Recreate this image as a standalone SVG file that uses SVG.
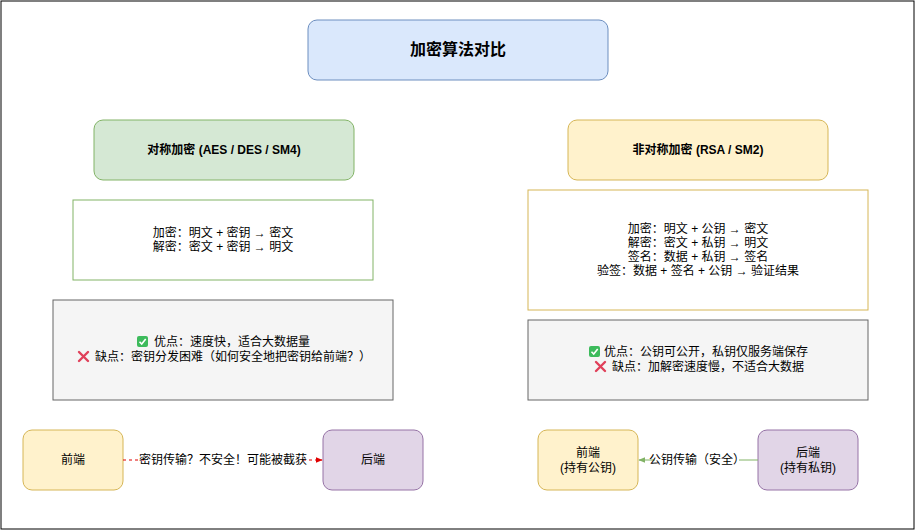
<svg xmlns="http://www.w3.org/2000/svg" width="916" height="531" viewBox="0 0 916 531">
<style>
text{font-family:"Liberation Sans","Noto Sans CJK SC",sans-serif;font-size:12px;fill:#000;text-anchor:middle}
.b{font-weight:bold}
.blue{fill:#dae8fc;stroke:#6c8ebf}
.green{fill:#d5e8d4;stroke:#82b366}
.yel{fill:#fff2cc;stroke:#d6b656}
.pur{fill:#e1d5e7;stroke:#9673a6}
.gray{fill:#f5f5f5;stroke:#666666}
</style>
<defs>
<marker id="ar" viewBox="0 0 10 10" refX="9" refY="5" markerWidth="7" markerHeight="7" orient="auto"><path d="M0,1 L10,5 L0,9 z" fill="#e00000"/></marker>
<marker id="ag" viewBox="0 0 10 10" refX="9" refY="5" markerWidth="7" markerHeight="7" orient="auto"><path d="M0,1 L10,5 L0,9 z" fill="#82b366"/></marker>
<g id="ok"><rect x="0" y="0" width="11" height="11" rx="2" fill="#3dbb5c"/><path d="M2.5,5.8 L4.7,8 L8.7,3" fill="none" stroke="#fff" stroke-width="1.6"/></g>
<g id="no"><path d="M1,1 L10,10 M10,1 L1,10" stroke="#e0405a" stroke-width="2.4" stroke-linecap="round"/></g>
</defs>
<rect x="1" y="1" width="913" height="528" fill="#fff" stroke="#000"/>
<g id="title"><rect class="blue" x="308" y="20" width="300" height="60" rx="9"/><text class="b" x="458" y="55" style="font-size:16px">加密算法对比</text></g>
<g id="symHead"><rect class="green" x="94" y="120" width="260" height="60" rx="9"/><text class="b" x="224" y="154">对称加密 (AES / DES / SM4)</text></g>
<g id="asymHead"><rect class="yel" x="568" y="120" width="260" height="60" rx="9"/><text class="b" x="698" y="154">非对称加密 (RSA / SM2)</text></g>
<g id="symFormula"><rect x="73" y="200" width="300" height="80" fill="#fff" stroke="#82b366"/><text x="223" y="237">加密：明文 + 密钥 → 密文</text><text x="223" y="251">解密：密文 + 密钥 → 明文</text></g>
<g id="asymFormula"><rect x="528" y="190" width="340" height="120" fill="#fff" stroke="#d6b656"/><text x="698" y="233">加密：明文 + 公钥 → 密文</text><text x="698" y="247">解密：密文 + 私钥 → 明文</text><text x="698" y="261">签名：数据 + 私钥 → 签名</text><text x="698" y="275">验签：数据 + 签名 + 公钥 → 验证结果</text></g>
<g id="symPros"><rect class="gray" x="53" y="300" width="340" height="100"/><use href="#ok" x="137" y="336"/><text x="232" y="346">优点：速度快，适合大数据量</text><use href="#no" x="78" y="351"/><text x="233" y="361">缺点：密钥分发困难（如何安全地把密钥给前端？）</text></g>
<g id="asymPros"><rect class="gray" x="528" y="320" width="340" height="80"/><use href="#ok" x="589" y="346"/><text x="706" y="356">优点：公钥可公开，私钥仅服务端保存</text><use href="#no" x="595" y="361"/><text x="708" y="371">缺点：加解密速度慢，不适合大数据</text></g>
<g id="symFront"><rect class="yel" x="23" y="430" width="100" height="60" rx="9"/><text x="73" y="464">前端</text></g>
<g id="symBack"><rect class="pur" x="323" y="430" width="100" height="60" rx="9"/><text x="373" y="464">后端</text></g>
<g id="asymFront"><rect class="yel" x="538" y="430" width="100" height="60" rx="9"/><text x="588" y="457">前端</text><text x="588" y="472">(持有公钥)</text></g>
<g id="asymBack"><rect class="pur" x="758" y="430" width="100" height="60" rx="9"/><text x="808" y="457">后端</text><text x="808" y="472">(持有私钥)</text></g>
<g id="connectors">
<path d="M123,460 H322" stroke="#e00000" stroke-dasharray="3,3" fill="none" marker-end="url(#ar)"/>
<rect x="145" y="452" width="156" height="16" fill="#fff"/><text x="223" y="464">密钥传输？不安全！可能被截获</text>
<path d="M758,460 H639" stroke="#82b366" fill="none" marker-end="url(#ag)"/>
<rect x="655" y="452" width="84" height="16" fill="#fff"/><text x="697" y="464">公钥传输（安全）</text>
</g>
</svg>
